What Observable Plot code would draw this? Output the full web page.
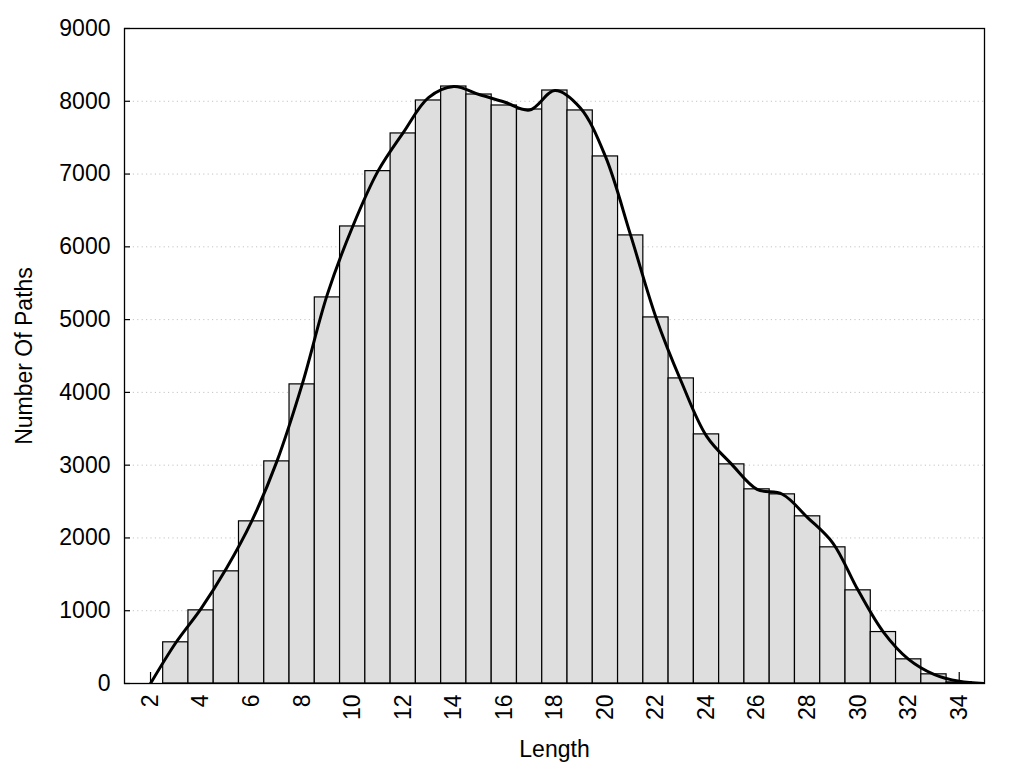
<!DOCTYPE html>
<html>
<head>
<meta charset="utf-8">
<script src="https://cdn.jsdelivr.net/npm/d3@7"></script>
<script src="https://cdn.jsdelivr.net/npm/@observablehq/plot@0.6"></script>
<style>
  html, body { margin: 0; padding: 0; background: #fff; }
  #chart svg { display: block; }
</style>
</head>
<body>
<div id="chart"></div>
<script>
// Histogram bars: path length -> number of paths
const lengths = [3, 4, 5, 6, 7, 8, 9, 10, 11, 12, 13, 14, 15, 16, 17, 18, 19, 20, 21, 22, 23, 24, 25, 26, 27, 28, 29, 30, 31, 32, 33, 34];
const counts  = [566, 1005, 1541, 2228, 3052, 4110, 5305, 6280, 7040, 7558, 8011, 8203, 8093, 7942, 7887, 8148, 7874, 7242, 6157, 5030, 4192, 3423, 3011, 2668, 2599, 2297, 1871, 1280, 707, 332, 126, 15];

// Smoothed curve
const curveX = [2, 3, 4, 5, 6, 7, 8, 9, 10, 11, 12, 13, 14, 15, 16, 17, 18, 19, 20, 21, 22, 23, 24, 25, 26, 27, 28, 29, 30, 31, 32, 33, 34, 35];
const curveY = [0, 560, 1030, 1580, 2228, 3052, 4110, 5350, 6280, 7040, 7570, 8050, 8203, 8093, 7990, 7880, 8148, 7910, 7242, 6157, 5030, 4150, 3400, 3011, 2668, 2600, 2280, 1930, 1280, 707, 332, 126, 30, 0];

const xTicks = [2, 4, 6, 8, 10, 12, 14, 16, 18, 20, 22, 24, 26, 28, 30, 32, 34];
const yTicks = [0, 1000, 2000, 3000, 4000, 5000, 6000, 7000, 8000, 9000];
const gridValues = [1000, 2000, 3000, 4000, 5000, 6000, 7000, 8000];

const xLabel = "Length";
const yLabel = "Number Of Paths";

const bars = lengths.map((x, i) => ({x, v: counts[i]}));
const curve = curveX.map((x, i) => ({x, y: curveY[i]}));

const chart = Plot.plot({
  width: 1024,
  height: 768,
  marginLeft: 124,
  marginRight: 40,
  marginTop: 28,
  marginBottom: 85,
  style: {fontFamily: "'Liberation Sans', Arial, sans-serif", fontSize: "23px", background: "#fff", color: "#000"},
  x: {domain: [0.97, 35], label: null},
  y: {domain: [0, 9000], label: null},
  marks: [
    Plot.ruleY(gridValues, {stroke: "#c4c4c4", strokeWidth: 1, strokeDasharray: "1.2,3.2"}),
    Plot.axisX(xTicks, {tickSize: -11, text: null, stroke: "#000", strokeWidth: 1.2}),
    Plot.rectY(bars, {x1: d => d.x - 0.5, x2: d => d.x + 0.5, y: "v", fill: "#dedede", stroke: "#000", strokeWidth: 1.2}),
    Plot.line(curve, {x: "x", y: "y", curve: "catmull-rom", stroke: "#000", strokeWidth: 3, clip: true}),
    Plot.frame({stroke: "#000", strokeWidth: 1.3}),
    Plot.axisY(yTicks, {tickSize: -6, text: null, stroke: "#000", strokeWidth: 1.2}),
    Plot.axisY(yTicks, {tickSize: 0, tickPadding: 14, tickFormat: "d", label: null, fontSize: 23}),
    Plot.axisX(xTicks, {tickSize: 0, tickPadding: 11, tickRotate: -90, tickFormat: "d", label: null, fontSize: 23}),
    Plot.text([yLabel], {frameAnchor: "left", dx: -100, rotate: -90, fontSize: 23, lineAnchor: "middle", textAnchor: "middle"}),
    Plot.text([xLabel], {frameAnchor: "bottom", dy: 66, fontSize: 23, lineAnchor: "middle", textAnchor: "middle"})
  ]
});
document.getElementById("chart").appendChild(chart);
</script>
</body>
</html>
